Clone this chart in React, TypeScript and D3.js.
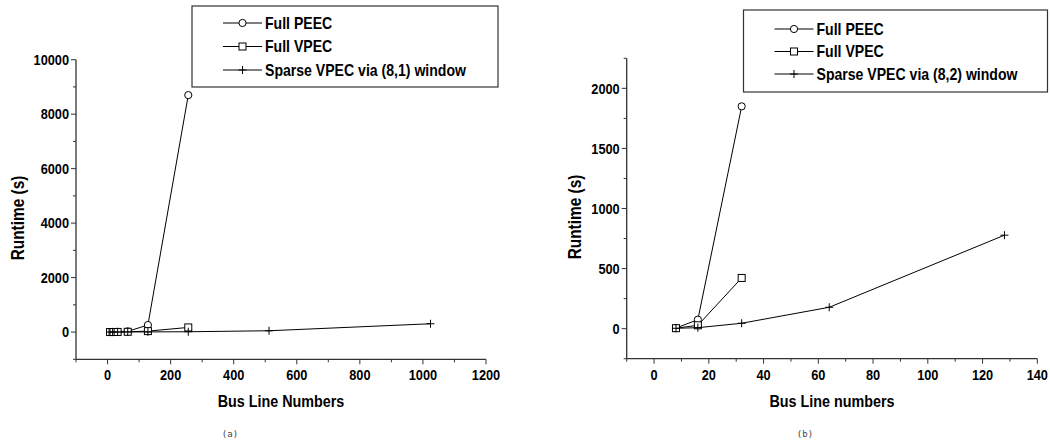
import React from 'react';
import * as d3 from 'd3';

// ---- Data: panel (a) ----
const aPeecX = [8, 16, 32, 64, 128, 256];
const aPeecY = [1, 3, 8, 25, 260, 8700];
const aVpecX = [8, 16, 32, 64, 128, 256];
const aVpecY = [1, 2, 4, 10, 35, 170];
const aSparseX = [8, 16, 32, 64, 128, 256, 512, 1024];
const aSparseY = [0, 1, 2, 4, 6, 12, 48, 305];
const aXTicks = [0, 200, 400, 600, 800, 1000, 1200];
const aXMinor = [-100, 100, 300, 500, 700, 900, 1100];
const aYTicks = [0, 2000, 4000, 6000, 8000, 10000];
const aYMinor = [-1000, 1000, 3000, 5000, 7000, 9000];

// ---- Data: panel (b) ----
const bPeecX = [8, 16, 32];
const bPeecY = [5, 75, 1850];
const bVpecX = [8, 16, 32];
const bVpecY = [4, 28, 422];
const bSparseX = [8, 16, 32, 64, 128];
const bSparseY = [3, 8, 45, 178, 778];
const bXTicks = [0, 20, 40, 60, 80, 100, 120, 140];
const bXMinor = [-10, 10, 30, 50, 70, 90, 110, 130];
const bYTicks = [0, 500, 1000, 1500, 2000];
const bYMinor = [-250, 250, 750, 1250, 1750, 2250];

const seriesNames = ['Full PEEC', 'Full VPEC'];

type Marker = 'circle' | 'square' | 'plus';

function MarkerShape({ type, x, y }: { type: Marker; x: number; y: number }) {
  if (type === 'circle') return <circle cx={x} cy={y} r={3.6} fill="white" stroke="#000" strokeWidth={1} />;
  if (type === 'square') return <rect x={x - 3.5} y={y - 3.5} width={7} height={7} fill="white" stroke="#000" strokeWidth={1} />;
  return (
    <g stroke="#000" strokeWidth={1}>
      <line x1={x - 4} x2={x + 4} y1={y} y2={y} />
      <line x1={x} x2={x} y1={y - 4} y2={y + 4} />
    </g>
  );
}

const FAMILY = '"Liberation Sans", Arial, sans-serif';
const SX = 0.88;

function CText({
  x, y, size, anchor = 'start', rotate = 0, dy, children,
}: { x: number; y: number; size: number; anchor?: 'start' | 'middle' | 'end'; rotate?: number; dy?: string; children: React.ReactNode }) {
  return (
    <text
      transform={`translate(${x},${y})${rotate ? ` rotate(${rotate})` : ''} scale(${SX},1)`}
      textAnchor={anchor}
      dy={dy}
      style={{ fontFamily: FAMILY, fontWeight: 700, fontSize: size, fill: '#000' }}
    >
      {children}
    </text>
  );
}

interface PanelProps {
  xRange: [number, number];
  yRange: [number, number];
  xDomain: [number, number];
  yDomain: [number, number];
  xTicks: number[];
  xMinor: number[];
  yTicks: number[];
  yMinor: number[];
  series: { xs: number[]; ys: number[]; marker: Marker }[];
  xTitle: string;
  yTitleX: number;
  yTitleY: number;
  legend: { x: number; y: number; w: number; h: number; first: number; step: number; labels: string[] };
  caption: string;
  captionX: number;
}

function Panel(p: PanelProps) {
  const x = d3.scaleLinear().domain(p.xDomain).range(p.xRange);
  const y = d3.scaleLinear().domain(p.yDomain).range(p.yRange);
  const line = d3.line<[number, number]>().x((d) => x(d[0])).y((d) => y(d[1]));
  const [x0, x1] = p.xRange;
  const [yb, yt] = p.yRange;
  const markers: Marker[] = ['circle', 'square', 'plus'];
  const axisColor = '#333';
  return (
    <g>
      {/* axes */}
      <line x1={x0} x2={x0} y1={yt} y2={yb} stroke={axisColor} strokeWidth={1.3} />
      <line x1={x0} x2={x1} y1={yb} y2={yb} stroke={axisColor} strokeWidth={1.3} />
      {p.yTicks.map((t) => (
        <g key={'yt' + t}>
          <line x1={x0 - 5} x2={x0} y1={y(t)} y2={y(t)} stroke={axisColor} />
          <CText x={x0 - 7} y={y(t)} size={14.5} anchor="end" dy="0.36em">{t}</CText>
        </g>
      ))}
      {p.yMinor.map((t) => (
        <line key={'ym' + t} x1={x0 - 3} x2={x0} y1={y(t)} y2={y(t)} stroke={axisColor} />
      ))}
      {p.xTicks.map((t) => (
        <g key={'xt' + t}>
          <line x1={x(t)} x2={x(t)} y1={yb} y2={yb + 5} stroke={axisColor} />
          <CText x={x(t)} y={yb + 21} size={14.5} anchor="middle">{t}</CText>
        </g>
      ))}
      {p.xMinor.map((t) => (
        <line key={'xm' + t} x1={x(t)} x2={x(t)} y1={yb} y2={yb + 3} stroke={axisColor} />
      ))}
      {/* titles */}
      <CText x={(x0 + x1) / 2} y={yb + 48} size={16.3} anchor="middle">{p.xTitle}</CText>
      <CText x={p.yTitleX} y={p.yTitleY} size={17.5} anchor="middle" rotate={-90}>Runtime (s)</CText>
      {/* series */}
      {p.series.map((s, i) => {
        const pts = s.xs.map((v, j) => [v, s.ys[j]] as [number, number]);
        return (
          <g key={'s' + i}>
            <path d={line(pts) || ''} fill="none" stroke="#000" strokeWidth={1} />
            {pts.map((d, j) => (
              <MarkerShape key={j} type={s.marker} x={x(d[0])} y={y(d[1])} />
            ))}
          </g>
        );
      })}
      {/* legend */}
      <rect x={p.legend.x} y={p.legend.y} width={p.legend.w} height={p.legend.h} fill="white" stroke="#333" strokeWidth={1.2} />
      {p.legend.labels.map((l, i) => {
        const ly = p.legend.first + i * p.legend.step;
        const lx = p.legend.x + 31;
        return (
          <g key={'l' + i}>
            <line x1={lx} x2={lx + 39} y1={ly} y2={ly} stroke="#000" />
            <MarkerShape type={markers[i]} x={lx + 19.5} y={ly} />
            <CText x={lx + 42} y={ly} size={16} dy="0.36em">{l}</CText>
          </g>
        );
      })}
      <text
        x={p.captionX}
        y={437}
        textAnchor="middle"
        style={{ fontFamily: '"DejaVu Sans Mono", monospace', fontSize: 9, fill: '#444' }}
      >
        {p.caption}
      </text>
    </g>
  );
}

export default function App() {
  return (
    <svg width={1050} height={444} style={{ position: 'absolute', left: 0, top: 0, background: 'white' }}>
      <rect width={1050} height={444} fill="white" />
      <Panel
        xRange={[76, 486]}
        yRange={[359.3, 59.7]}
        xDomain={[-100, 1200]}
        yDomain={[-1000, 10000]}
        xTicks={aXTicks}
        xMinor={aXMinor}
        yTicks={aYTicks}
        yMinor={aYMinor}
        series={[
          { xs: aPeecX, ys: aPeecY, marker: 'circle' },
          { xs: aVpecX, ys: aVpecY, marker: 'square' },
          { xs: aSparseX, ys: aSparseY, marker: 'plus' },
        ]}
        xTitle="Bus Line Numbers"
        yTitleX={24}
        yTitleY={218}
        legend={{ x: 192, y: 6, w: 306, h: 81, first: 23, step: 23.5, labels: [...seriesNames, 'Sparse VPEC via (8,1) window'] }}
        caption="(a)"
        captionX={230}
      />
      <Panel
        xRange={[626.7, 1037.3]}
        yRange={[358.7, 58.3]}
        xDomain={[-10, 140]}
        yDomain={[-250, 2250]}
        xTicks={bXTicks}
        xMinor={bXMinor}
        yTicks={bYTicks}
        yMinor={bYMinor}
        series={[
          { xs: bPeecX, ys: bPeecY, marker: 'circle' },
          { xs: bVpecX, ys: bVpecY, marker: 'square' },
          { xs: bSparseX, ys: bSparseY, marker: 'plus' },
        ]}
        xTitle="Bus Line numbers"
        yTitleX={581}
        yTitleY={217}
        legend={{ x: 743.5, y: 10, w: 304, h: 82, first: 29, step: 22.5, labels: [...seriesNames, 'Sparse VPEC via (8,2) window'] }}
        caption="(b)"
        captionX={805}
      />
    </svg>
  );
}
